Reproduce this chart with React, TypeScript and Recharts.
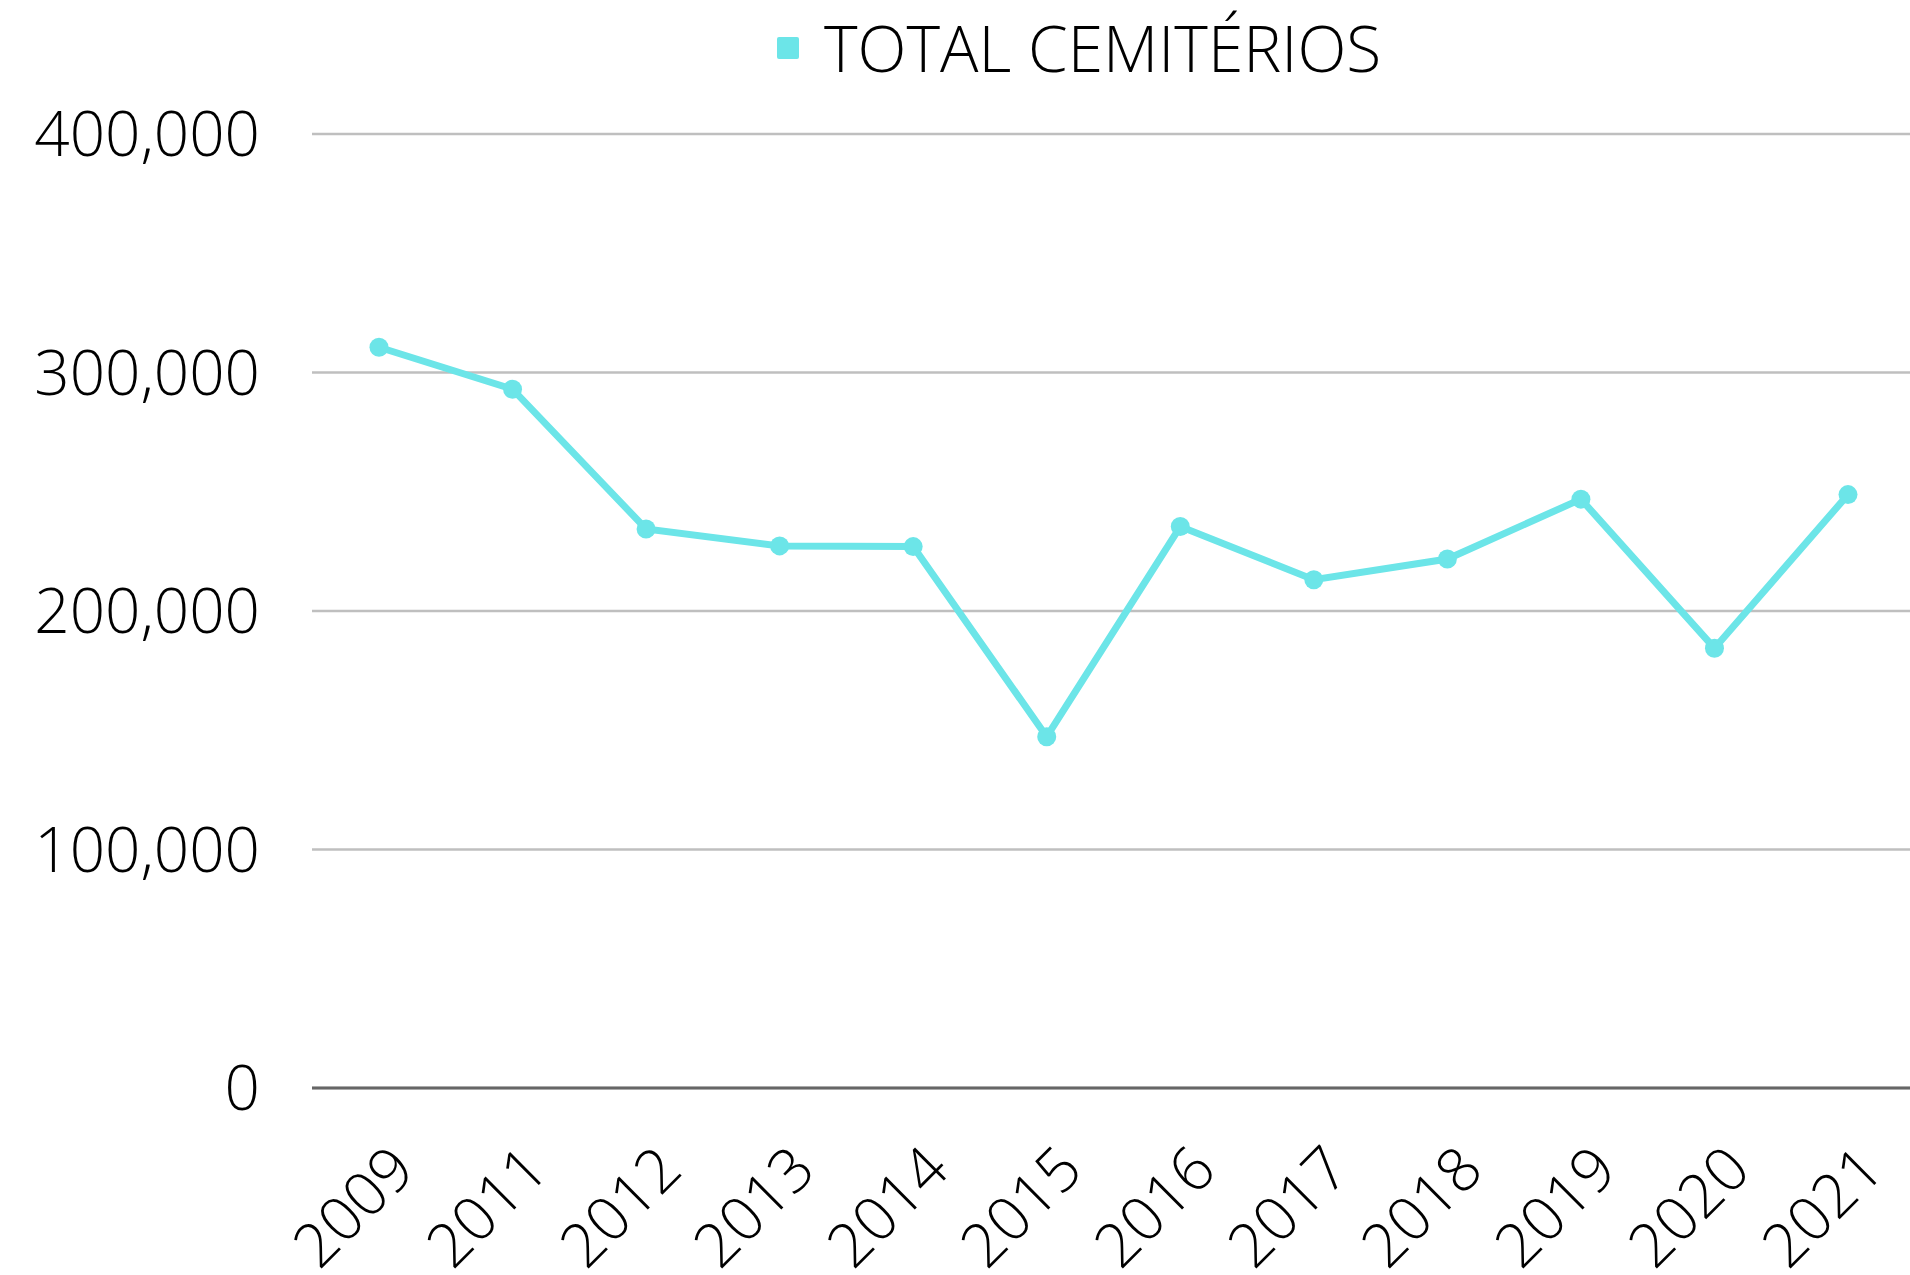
import { CartesianGrid, Legend, Line, LineChart, XAxis, YAxis } from 'recharts'

const years = ['2009', '2011', '2012', '2013', '2014', '2015', '2016', '2017', '2018', '2019', '2020', '2021']
const totalCemiterios = [310600, 293000, 234400, 227300, 227000, 147300, 235400, 213100, 221800, 246900, 184400, 248800]
const yTicks = [0, 100000, 200000, 300000, 400000]

const seriesName = 'TOTAL CEMITÉRIOS'
const lineColor = '#6ce5e8'
const font = '"Open Sans", sans-serif'

const data = years.map((year, i) => ({ year, total: totalCemiterios[i] }))

const LegendBox = () => (
  <div
    style={{
      display: 'flex',
      alignItems: 'center',
      justifyContent: 'flex-start',
      paddingLeft: 777,
      fontFamily: font,
      fontWeight: 300,
      fontSize: 64,
      color: '#000',
      lineHeight: 1,
    }}
  >
    <span style={{ width: 22, height: 22, background: lineColor, borderRadius: 2, marginRight: 25 }} />
    <span>{seriesName}</span>
  </div>
)

const App = (): JSX.Element => {
  return (
    <div style={{ position: 'absolute', left: 0, top: 0 }}>
      <LineChart
        width={1910}
        height={1275}
        data={data}
        margin={{ top: 134, right: 0, bottom: 0, left: 0 }}
      >
        <CartesianGrid vertical={false} stroke="#bfbfbf" strokeWidth={2.5} />
        <XAxis
          dataKey="year"
          height={187}
          padding={{ left: 67, right: 62 }}
          axisLine={{ stroke: '#666', strokeWidth: 3 }}
          tickLine={false}
          tickSize={0}
          tickMargin={54}
          angle={-45}
          textAnchor="end"
          interval={0}
          tick={{ fill: '#000', fontFamily: font, fontWeight: 300, fontSize: 61, dx: 8 }}
        />
        <YAxis
          width={312}
          domain={[0, 400000]}
          ticks={yTicks}
          axisLine={false}
          tickLine={false}
          tickSize={0}
          tickMargin={52}
          tickFormatter={(v: number) => v.toLocaleString('en-US')}
          tick={{ fill: '#000', fontFamily: font, fontWeight: 300, fontSize: 62 }}
        />
        <Legend verticalAlign="middle" wrapperStyle={{ top: 16, left: 0, width: 1910 }} content={<LegendBox />} />
        <Line
          type="linear"
          dataKey="total"
          name={seriesName}
          stroke={lineColor}
          strokeWidth={7}
          dot={{ r: 9.5, fill: lineColor, stroke: 'none' }}
          activeDot={false}
          isAnimationActive={false}
        />
      </LineChart>
    </div>
  )
}

export default App
